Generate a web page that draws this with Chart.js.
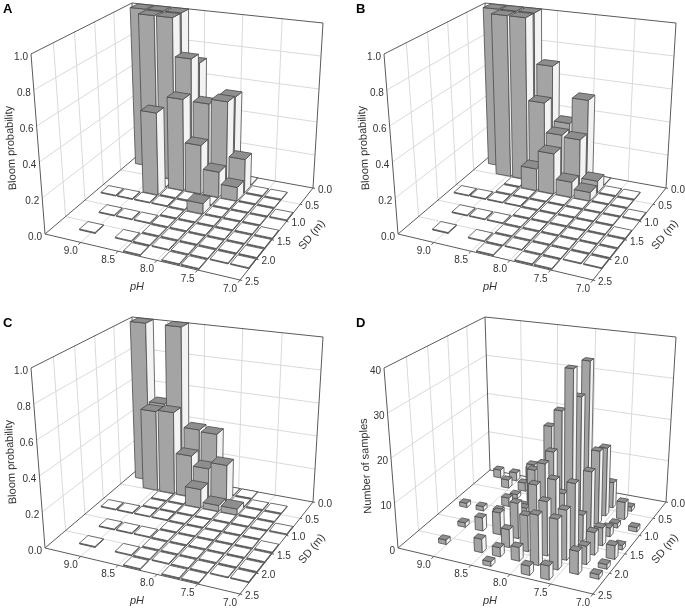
<!DOCTYPE html>
<html>
<head>
<meta charset="utf-8">
<title>Bloom probability</title>
<script src="https://cdn.jsdelivr.net/npm/chart.js@4/dist/chart.umd.js"></script>
<style>
    html, body { margin: 0; padding: 0; background: #fff; }
    canvas { position: absolute; }
</style>
</head>
<body>
<canvas id="panelA" width="332" height="294" style="left:0;top:0"></canvas>
<canvas id="panelB" width="332" height="294" style="left:353px;top:0"></canvas>
<canvas id="panelC" width="332" height="294" style="left:0;top:314px"></canvas>
<canvas id="panelD" width="332" height="294" style="left:353px;top:314px"></canvas>
<script>
// Bin centres
const phBins = [7.11, 7.355, 7.6, 7.84, 8.085, 8.33, 8.57, 8.815, 9.06, 9.3];
const sdBins = [0.125, 0.375, 0.625, 0.875, 1.125, 1.375, 1.625, 1.875, 2.125, 2.375];

// Tick labels
const phTicks = ['7.0', '7.5', '8.0', '8.5', '9.0'];
const sdTicks = ['0.0', '0.5', '1.0', '1.5', '2.0', '2.5'];
const probTicks = ['0.0', '0.2', '0.4', '0.6', '0.8', '1.0'];
const countTicks = ['0', '10', '20', '30', '40'];

// One row per SD bin, one column per pH bin, null = no samples in that bin
const bloomA = [
    [null, null, null, 0, 0.52, 0, 0.7, 1, 1, 1],
    [null, 0, 0, 0.2, 0.53, 0.5, 0.76, 1, 1, null],
    [null, 0, 0, 0.08, 0.15, 0.29, 0.55, 0, null, null],
    [0, 0, 0, 0, 0, 0, 0, 0.49, null, null],
    [null, 0, 0, 0, 0.06, 0, 0, 0, 0, 0],
    [0, 0, 0, 0, 0, 0, null, null, null, null],
    [0, 0, 0, 0, 0, 0, 0, 0, 0, null],
    [0, 0, 0, 0, 0, 0, null, null, null, null],
    [0, 0, 0, 0, 0, 0, 0, null, 0, null],
    [null, null, 0, 0, null, 0, null, null, null, null]
];
const bloomB = [
    [null, null, null, 0, 0.5, 0.34, 0.68, 1, 1, 1],
    [null, 0, 0, 0.07, 0.3, 0.31, 0.49, 1, 1, null],
    [null, 0, 0, 0.05, 0.09, 0.24, 0.13, 0, null, null],
    [0, 0, 0, 0, 0, 0, 0, 0, null, null],
    [null, 0, 0, 0, 0, 0, 0, 0, 0, 0],
    [0, 0, 0, 0, 0, 0, null, null, null, null],
    [0, 0, 0, 0, 0, 0, 0, 0, 0, null],
    [0, 0, 0, 0, 0, 0, null, null, null, null],
    [0, 0, 0, 0, 0, 0, 0, null, 0, null],
    [null, null, 0, 0, null, 0, null, null, null, null]
];
const bloomC = [
    [null, null, null, 0, 0, 0.36, 0.37, 1, 0.5, 1],
    [null, 0, 0, 0, 0.23, 0.19, 0.25, 0.5, 0.49, null],
    [null, 0, 0, 0.035, 0.035, 0.11, 0, 0, null, null],
    [0, 0, 0, 0, 0, 0, 0, 0, null, null],
    [null, 0, 0, 0, 0, 0, 0, 0, 0, 0],
    [0, 0, 0, 0, 0, 0, null, null, null, null],
    [0, 0, 0, 0, 0, 0, 0, 0, 0, null],
    [0, 0, 0, 0, 0, 0, null, null, null, null],
    [0, 0, 0, 0, 0, 0, 0, null, 0, null],
    [null, null, 0, 0, null, 0, null, null, null, null]
];
const sampleCounts = [
    [null, null, null, 1, 3, 3, 3, 4, 2, 2],
    [null, 1, 6, 6, 10, 8, 5, 2, 2, null],
    [null, 4, 16, 36, 13, 19, 9, 1, null, null],
    [1, 1, 17, 29, 25, 10, 1, 2, null, null],
    [null, 2, 14, 37, 17, 12, 1, 1, 1, 1],
    [1, 4, 6, 10, 16, 5, null, null, null, null],
    [3, 5, 15, 15, 13, 8, 5, 3, 1, null],
    [1, 4, 11, 12, 8, 4, null, null, null, null],
    [1, 5, 11, 11, 3, 2, 3, null, 1, null],
    [null, null, 3, 2, null, 1, null, null, null, null]
];

// Where the floor corners and the wall tops of the box land on each canvas
const floorFront = [240, 280];
const floorLeft = [45, 234];
const floorBack = [137, 156];
const floorRight = [313, 188];
const liftFront = [2, -190];
const liftLeft = [-14, -180];
const liftBack = [-5, -153];
const liftRight = [10, -165];

// Square to quad mapping of the floor
function floorMapping() {
    const [x0, y0] = floorFront, [x1, y1] = floorLeft, [x2, y2] = floorBack, [x3, y3] = floorRight;
    const dx1 = x1 - x2, dx2 = x3 - x2, sx = x0 - x1 + x2 - x3;
    const dy1 = y1 - y2, dy2 = y3 - y2, sy = y0 - y1 + y2 - y3;
    const det = dx1 * dy2 - dx2 * dy1;
    const g = (sx * dy2 - dx2 * sy) / det;
    const h = (dx1 * sy - sx * dy1) / det;
    return {
        a: x1 - x0 + g * x1, b: x3 - x0 + h * x3, c: x0,
        d: y1 - y0 + g * y1, e: y3 - y0 + h * y3, f: y0, g, h
    };
}
const floor = floorMapping();

// Scale decimals (s along pH, t along SD towards the back wall, w upwards) to canvas pixels
function toCanvas(s, t, w) {
    const den = floor.g * s + floor.h * t + 1;
    const baseX = (floor.a * s + floor.b * t + floor.c) / den;
    const baseY = (floor.d * s + floor.e * t + floor.f) / den;
    const mix = i => (1 - t) * ((1 - s) * liftFront[i] + s * liftLeft[i]) +
        t * ((1 - s) * liftRight[i] + s * liftBack[i]);
    return [baseX + w * mix(0), baseY + w * mix(1)];
}

function projector(chart) {
    const { x, sd, y } = chart.scales;
    return (ph, depth, value) => toCanvas(
        x.getDecimalForPixel(x.getPixelForValue(ph)),
        1 - sd.getDecimalForPixel(sd.getPixelForValue(depth)),
        y.getDecimalForPixel(y.getPixelForValue(value))
    );
}

function strokeLine(ctx, from, to, color, width) {
    ctx.strokeStyle = color;
    ctx.lineWidth = width || 1;
    ctx.beginPath();
    ctx.moveTo(from[0], from[1]);
    ctx.lineTo(to[0], to[1]);
    ctx.stroke();
}

function fillFace(ctx, points, color) {
    ctx.fillStyle = color;
    ctx.strokeStyle = '#4a4a4a';
    ctx.lineWidth = 0.8;
    ctx.beginPath();
    points.forEach((p, i) => i ? ctx.lineTo(p[0], p[1]) : ctx.moveTo(p[0], p[1]));
    ctx.closePath();
    ctx.fill();
    ctx.stroke();
}

// Back walls, floor grid and the dark box edges
function drawBox(chart, at) {
    const ctx = chart.ctx;
    const yMax = chart.scales.y.max;
    const ticks = chart.options.plugins.box3d.valueTicks;
    const gridColor = '#d9d9d9', edgeColor = '#5a5a5a';

    ticks.forEach(label => {
        const v = Number(label);
        if (v > 0 && v < yMax) {
            strokeLine(ctx, at(9.5, 2.5, v), at(9.5, 0, v), gridColor);
            strokeLine(ctx, at(9.5, 0, v), at(7, 0, v), gridColor);
        }
    });
    sdTicks.slice(1, -1).forEach(label => {
        const sd = Number(label);
        strokeLine(ctx, at(9.5, sd, 0), at(9.5, sd, yMax), gridColor);
        strokeLine(ctx, at(9.5, sd, 0), at(7, sd, 0), gridColor);
    });
    [7.5, 8, 8.5, 9].forEach(ph => {
        strokeLine(ctx, at(ph, 0, 0), at(ph, 0, yMax), gridColor);
        strokeLine(ctx, at(ph, 0, 0), at(ph, 2.5, 0), gridColor);
    });

    strokeLine(ctx, at(9.5, 2.5, 0), at(9.5, 2.5, yMax), edgeColor);
    strokeLine(ctx, at(9.5, 0, 0), at(9.5, 0, yMax), edgeColor);
    strokeLine(ctx, at(7, 0, 0), at(7, 0, yMax), edgeColor);
    strokeLine(ctx, at(9.5, 2.5, yMax), at(9.5, 0, yMax), edgeColor);
    strokeLine(ctx, at(9.5, 0, yMax), at(7, 0, yMax), edgeColor);
    strokeLine(ctx, at(9.5, 2.5, 0), at(9.5, 0, 0), edgeColor);
    strokeLine(ctx, at(9.5, 0, 0), at(7, 0, 0), edgeColor);
    strokeLine(ctx, at(9.5, 2.5, 0), at(7, 2.5, 0), edgeColor);
    strokeLine(ctx, at(7, 2.5, 0), at(7, 0, 0), edgeColor);
}

// Every bin as a box, from the back corner forwards so nearer boxes cover farther ones
function drawBars(chart, at) {
    const ctx = chart.ctx;
    const { fill, flatLift } = chart.options.plugins.box3d;
    const halfPh = 0.125 * fill, halfSd = 0.125 * fill;
    chart.data.datasets.forEach(dataset => {
        const points = [...dataset.data].sort((p, q) => q.x - p.x);
        points.forEach(point => {
            const flat = point.y === 0;
            const top = flat ? flatLift : point.y;
            const l = point.x + halfPh, r = point.x - halfPh;
            const b = dataset.sd - halfSd, f = dataset.sd + halfSd;
            fillFace(ctx, [at(l, f, 0), at(r, f, 0), at(r, f, top), at(l, f, top)], flat ? '#a0a0a0' : '#a4a4a4');
            fillFace(ctx, [at(r, f, 0), at(r, b, 0), at(r, b, top), at(r, f, top)], flat ? '#a0a0a0' : '#f3f3f3');
            fillFace(ctx, [at(l, f, top), at(r, f, top), at(r, b, top), at(l, b, top)], flat ? '#ffffff' : '#8e8e8e');
        });
    });
}

// Tick marks, tick labels, axis titles and the panel letter
function drawLabels(chart, at) {
    const ctx = chart.ctx;
    const { letter, title, titleAt, valueTicks } = chart.options.plugins.box3d;
    const textColor = '#333333';
    const tickColor = '#5a5a5a';
    ctx.fillStyle = textColor;
    ctx.textBaseline = 'middle';
    ctx.font = '10px "Liberation Sans"';

    ctx.textAlign = 'center';
    phTicks.forEach(label => {
        const ph = Number(label);
        const p = at(ph, 2.5, 0);
        strokeLine(ctx, p, at(ph, 2.56, 0), tickColor);
        ctx.fillStyle = textColor;
        ctx.fillText(label, p[0] - 10, p[1] + 9);
    });
    sdTicks.forEach(label => {
        const sd = Number(label);
        const p = at(7, sd, 0);
        strokeLine(ctx, p, at(6.975, sd, 0), tickColor);
        ctx.fillText(label, p[0] + 12, p[1] + 2);
    });
    ctx.textAlign = 'right';
    valueTicks.forEach(label => {
        const p = at(9.5, 2.5, Number(label));
        ctx.fillText(label, p[0] - 3, p[1] + 3);
    });

    ctx.textAlign = 'center';
    ctx.font = '11px "Liberation Sans"';
    ctx.save();
    ctx.translate(titleAt[0], titleAt[1]);
    ctx.rotate(-Math.PI / 2 - 0.05);
    ctx.fillText(title, 0, 0);
    ctx.restore();

    ctx.save();
    ctx.translate(312, 235);
    ctx.rotate(-0.88);
    ctx.fillText('SD (m)', 0, 0);
    ctx.restore();

    ctx.font = 'italic 11px "Liberation Sans"';
    ctx.fillText('pH', 137, 287);

    ctx.fillStyle = '#000000';
    ctx.textAlign = 'left';
    ctx.font = 'bold 13px "Liberation Sans"';
    ctx.fillText(letter, 3, 9);
}

const box3dPlugin = {
    id: 'box3d',
    beforeDatasetsDraw(chart) {
        const at = projector(chart);
        drawBox(chart, at);
        drawBars(chart, at);
        drawLabels(chart, at);
    }
};

// Build one panel from its rows
function createPanel(canvasId, rows, settings) {
    const datasets = sdBins.map((sd, k) => ({
        label: `SD ${sd}`,
        sd,
        showLine: false,
        pointRadius: 0,
        data: phBins
            .map((ph, i) => ({ x: ph, y: rows[k][i] }))
            .filter(point => point.y !== null && (settings.showZero || point.y > 0))
    }));

    return new Chart(document.getElementById(canvasId), {
        type: 'scatter',
        data: { datasets },
        plugins: [box3dPlugin],
        options: {
            responsive: false,
            animation: false,
            events: [],
            layout: { padding: 0 },
            scales: {
                x: { type: 'linear', min: 7, max: 9.5, display: false },
                sd: { type: 'linear', axis: 'x', min: 0, max: 2.5, display: false },
                y: { type: 'linear', min: 0, max: settings.yMax, display: false }
            },
            plugins: {
                legend: { display: false },
                tooltip: { enabled: false },
                box3d: settings
            }
        }
    });
}

const probPanel = { yMax: 1, valueTicks: probTicks, title: 'Bloom probability', titleAt: [11, 148], fill: 0.86, flatLift: 0.005, showZero: true };

createPanel('panelA', bloomA, { ...probPanel, letter: 'A' });
createPanel('panelB', bloomB, { ...probPanel, letter: 'B' });
createPanel('panelC', bloomC, { ...probPanel, letter: 'C' });
createPanel('panelD', sampleCounts, {
    yMax: 40, valueTicks: countTicks, title: 'Number of samples', titleAt: [13, 152],
    fill: 0.42, flatLift: 0, showZero: false, letter: 'D'
});
</script>
</body>
</html>
